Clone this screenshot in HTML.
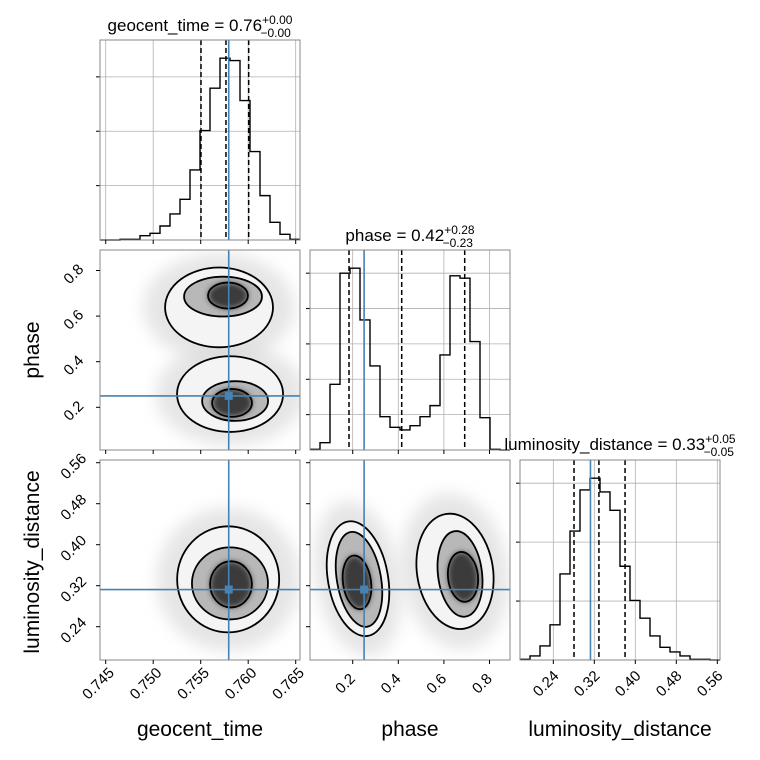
<!DOCTYPE html>
<html><head><meta charset="utf-8"><style>
body{margin:0;background:#fff}
svg{display:block}
text{font-family:"Liberation Sans","DejaVu Sans",sans-serif;fill:#000}
</style></head><body>
<svg id="c" width="760" height="760" viewBox="0 0 760 760" xmlns="http://www.w3.org/2000/svg">
<defs>
<filter id="blur" x="-50%" y="-50%" width="200%" height="200%"><feGaussianBlur stdDeviation="8"/></filter>
<filter id="blur2" x="-50%" y="-50%" width="200%" height="200%"><feGaussianBlur stdDeviation="3"/></filter>
</defs>
</svg>
<script>
// ---- data ----
const geoHist=[0,0,2,2,13,20,42,78,122,210,328,455,545,538,418,265,133,53,17,2];
const phaseHist=[2,22,197,530,545,390,252,100,68,60,73,100,133,285,522,515,325,97,2,0];
const lumHist=[2,12,42,105,257,385,508,543,502,447,280,178,125,72,38,24,12,2,2,0];
const geoQuant=[0.75503,0.75766,0.76005];
const phaseQuant=[0.1838,0.4149,0.6912];
const lumQuant=[0.2804,0.3290,0.3800];
const truthGeo=0.75795, truthPhase=0.25, truthLum=0.3125;
const geoTicks=[0.745,0.75,0.755,0.76,0.765];
const geoTickLabels=["0.745","0.750","0.755","0.760","0.765"];
const phaseTicks=[0.2,0.4,0.6,0.8];
const phaseTickLabels=["0.2","0.4","0.6","0.8"];
const lumTicks=[0.24,0.32,0.40,0.48,0.56];
const lumTickLabels=["0.24","0.32","0.40","0.48","0.56"];
const geoCountTicks=[163,326,489];
const phaseCountTicks=[106,212,318,424,530];
const lumCountTicks=[176,352,528];
// contours: [cx, cy, rx, ry, rotationDeg] in data units
const geoPhaseContours=[
 [0.75693,0.6380,0.00568,0.175,0],[0.75735,0.6856,0.0041,0.0873,0],[0.75787,0.690,0.0021,0.057,0],
 [0.75809,0.258,0.00558,0.166,0],[0.75862,0.2275,0.00347,0.087,0],[0.7583,0.219,0.0021,0.061,0]];
const geoLumContours=[[0.75789,0.3324,0.00537,0.1035,0],[0.75808,0.3245,0.0040,0.0703,0],[0.75819,0.3226,0.0022,0.045,0]];
const phaseLumContours=[
 [0.2232,0.3337,0.1316,0.1133,-10],[0.2276,0.3324,0.0965,0.0938,-10],[0.2189,0.3265,0.0614,0.0527,-8],
 [0.6487,0.348,0.1667,0.1133,-9],[0.6706,0.343,0.0965,0.084,-7],[0.6838,0.3372,0.0658,0.0488,-6]];

// ---- scales ----
const geoDom=[0.744400,0.765453], phaseDom=[0.01272,0.88991], lumDom=[0.17502,0.56526];
const NS='http://www.w3.org/2000/svg';
const svg=document.getElementById('c');
function el(tag,attrs,parent){const e=document.createElementNS(NS,tag);for(const k in attrs)e.setAttribute(k,attrs[k]);(parent||svg).appendChild(e);return e;}
function lin(d,r){return v=>r[0]+(v-d[0])/(d[1]-d[0])*(r[1]-r[0]);}
const P=[[100,300],[310,510],[520,720]], R=[[40,240],[250,450],[460,660]];
const doms=[geoDom,phaseDom,lumDom];
const ticks=[geoTicks,phaseTicks,lumTicks], tlabels=[geoTickLabels,phaseTickLabels,lumTickLabels];

function frame(c,r,g){
 el('rect',{x:P[c][0],y:R[r][0],width:200,height:200,fill:'none',stroke:'#888','stroke-width':1},g);
}
function xTicks(c,r,g,labels){
 const sx=lin(doms[c],P[c]);
 ticks[c].forEach((t,i)=>{const x=sx(t);
  el('line',{x1:x,x2:x,y1:R[r][1],y2:R[r][1]+4,stroke:'#000'},g);
  if(labels){const ly=R[r][1]+27;const tx=el('text',{x:x-4,y:ly,'font-size':15,'text-anchor':'middle',transform:`rotate(-45 ${x-4} ${ly})`},g);tx.textContent=tlabels[c][i];
   
   }
 });
}
function yTicks(dimIdx,r,g,labels){
 const sy=lin(doms[dimIdx],[R[r][1],R[r][0]]);
 ticks[dimIdx].forEach((t,i)=>{const y=sy(t);
  el('line',{x1:96,x2:100,y1:y,y2:y,stroke:'#000'},g);
  if(labels){const tx=el('text',{x:77,y:y+7,'font-size':15,'text-anchor':'middle',transform:`rotate(-45 77 ${y+7})`},g);tx.textContent=tlabels[dimIdx][i];
   
   }
 });
}
function hist(c,data,q,truth,cticks,name){
 const g=el('g',{});
 
 
 const x0=P[c][0], y0=R[c][1], max=Math.max(...data)*1.1;
 const sy=v=>y0-v/max*200, sx=lin(doms[c],P[c]);
 ticks[c].forEach(t=>{const x=sx(t);el('line',{x1:x,x2:x,y1:R[c][0],y2:y0,stroke:'#b0b0b0','stroke-width':0.8},g);});
 cticks.forEach(t=>{const y=sy(t);el('line',{x1:x0,x2:x0+200,y1:y,y2:y,stroke:'#b0b0b0','stroke-width':0.8},g);
  el('line',{x1:x0-4,x2:x0,y1:y,y2:y,stroke:'#000'},g);});
 let d='', w=200/data.length;
 data.forEach((v,i)=>{const y=sy(v);d+=(i===0?`M${x0},${y}`:`L${x0+i*w},${y}`)+`L${x0+(i+1)*w},${y}`;});
 const p=el('path',{d:d,fill:'none',stroke:'#000','stroke-width':1.4},g);
 
 
 q.forEach(v=>{const x=sx(v);const l=el('line',{x1:x,x2:x,y1:R[c][0],y2:y0,stroke:'#000','stroke-width':1.5,'stroke-dasharray':'5,3'},g);
  
  });
 const tx=sx(truth);
 const b=el('line',{x1:tx,x2:tx,y1:R[c][0],y2:y0,stroke:'#4682b4','stroke-width':1.6},g);
 
 
 frame(c,c,g);
 xTicks(c,c,g,c===2);
}
function panel2d(c,r,contours,tx,ty,name){
 const g=el('g',{});
 
 
 const sx=lin(doms[c],P[c]), sy=lin(doms[r],[R[r][1],R[r][0]]);
 const kx=200/(doms[c][1]-doms[c][0]), ky=200/(doms[r][1]-doms[r][0]);
 const clipId='cl'+c+r;
 const cp=el('clipPath',{id:clipId},svg);el('rect',{x:P[c][0],y:R[r][0],width:200,height:200},cp);
 const inner=el('g',{'clip-path':`url(#${clipId})`},g);
 const fills=['#f4f4f4','#b8b8b8','#3a3a3a'];
 for(let i=0;i<contours.length;i+=3){const e=contours[i];
  el('ellipse',{cx:sx(e[0]),cy:sy(e[1]),rx:e[2]*kx*1.4,ry:e[3]*ky*1.35,fill:'#d4d4d4',opacity:0.6,filter:'url(#blur)',transform:`rotate(${e[4]} ${sx(e[0])} ${sy(e[1])})`},inner);}
 contours.forEach((e,i)=>{const cx=sx(e[0]),cy=sy(e[1]);
  const f=el('ellipse',{cx:cx,cy:cy,rx:e[2]*kx,ry:e[3]*ky,fill:fills[i%3],transform:`rotate(${e[4]} ${cx} ${cy})`},inner);
  if(i%3===2)f.setAttribute('filter','url(#blur2)');});
 contours.forEach((e,i)=>{const cx=sx(e[0]),cy=sy(e[1]);
  const l=el('ellipse',{cx:cx,cy:cy,rx:e[2]*kx,ry:e[3]*ky,fill:'none',stroke:'#000','stroke-width':1.8,transform:`rotate(${e[4]} ${cx} ${cy})`},inner);
  
  });
 const X=sx(tx),Y=sy(ty);
 el('line',{x1:X,x2:X,y1:R[r][0],y2:R[r][1],stroke:'#4682b4','stroke-width':1.6},inner);
 el('line',{x1:P[c][0],x2:P[c][1],y1:Y,y2:Y,stroke:'#4682b4','stroke-width':1.6},inner);
 const m=el('rect',{x:X-4,y:Y-4,width:8,height:8,fill:'#4682b4'},inner);
 
 
 frame(c,r,g);
 xTicks(c,r,g,r===2);
 if(c===0)yTicks(r,r,g,true);
 else ticks[r].forEach(t=>{const y=sy(t);el('line',{x1:P[c][0]-4,x2:P[c][0],y1:y,y2:y,stroke:'#000'},g);});
}
hist(0,geoHist,geoQuant,truthGeo,geoCountTicks,'geocent-time-histogram');
hist(1,phaseHist,phaseQuant,truthPhase,phaseCountTicks,'phase-histogram');
hist(2,lumHist,lumQuant,truthLum,lumCountTicks,'luminosity-distance-histogram');
panel2d(0,1,geoPhaseContours,truthGeo,truthPhase,'geocent-vs-phase');
panel2d(0,2,geoLumContours,truthGeo,truthLum,'geocent-vs-luminosity');
panel2d(1,2,phaseLumContours,truthPhase,truthLum,'phase-vs-luminosity');
</script>
<svg width="760" height="760" style="position:absolute;left:0;top:0">
<text x="200" y="31" font-size="17" text-anchor="middle">geocent_time = 0.76<tspan font-size="12" dy="-7">+0.00</tspan><tspan font-size="12" dx="-32" dy="13">−0.00</tspan></text>
<text x="410" y="241" font-size="17" text-anchor="middle">phase = 0.42<tspan font-size="12" dy="-7">+0.28</tspan><tspan font-size="12" dx="-32" dy="13">−0.23</tspan></text>
<text x="620" y="450" font-size="17" text-anchor="middle">luminosity_distance = 0.33<tspan font-size="12" dy="-7">+0.05</tspan><tspan font-size="12" dx="-32" dy="13">−0.05</tspan></text>
<text x="200" y="736" font-size="21" text-anchor="middle">geocent_time</text>
<text x="410" y="736" font-size="21" text-anchor="middle">phase</text>
<text x="620" y="736" font-size="21" text-anchor="middle">luminosity_distance</text>
<text x="39" y="350" font-size="21" text-anchor="middle" transform="rotate(-90 39 350)">phase</text>
<text x="39" y="562" font-size="21" text-anchor="middle" transform="rotate(-90 39 562)">luminosity_distance</text>
</svg>
</body></html>
